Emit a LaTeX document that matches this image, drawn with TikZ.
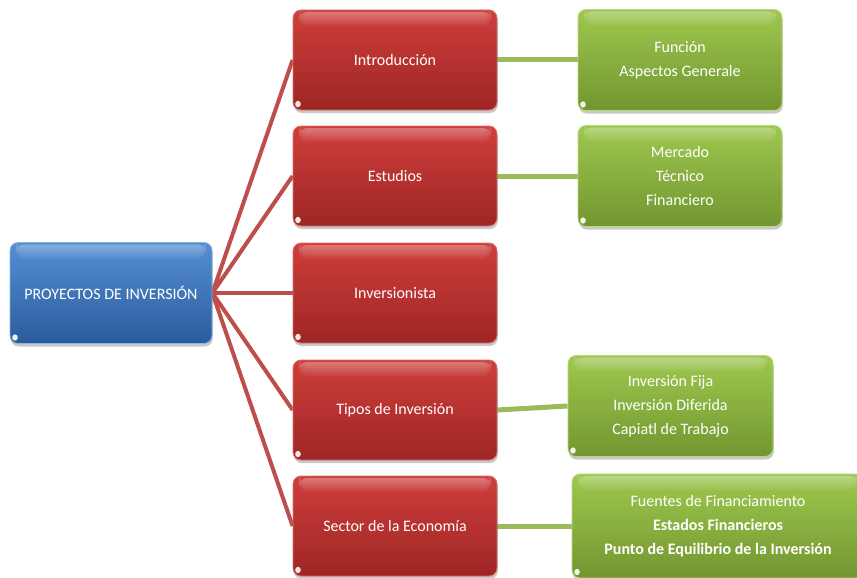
\documentclass[tikz,border=0pt]{standalone}
\usepackage{fontspec}
\setmainfont{Carlito}
\usetikzlibrary{shadows,backgrounds}

% palette
\definecolor{bluetop}{RGB}{86,142,212}
\definecolor{bluebot}{RGB}{42,92,156}
\definecolor{blueedge}{RGB}{135,180,230}
\definecolor{redtop}{RGB}{206,62,60}
\definecolor{redbot}{RGB}{158,38,36}
\definecolor{rededge}{RGB}{220,110,105}
\definecolor{greentop}{RGB}{158,200,78}
\definecolor{greenbot}{RGB}{114,150,48}
\definecolor{greenedge}{RGB}{185,215,125}
\definecolor{redlink}{RGB}{190,78,75}
\definecolor{greenlink}{RGB}{155,187,89}

\tikzset{
  glossbox/.style={
    rounded corners=8pt, draw=#1edge, line width=0.8pt,
    top color=#1top, bottom color=#1bot,
    text=white, align=center,
    font=\fontsize{16pt}{24pt}\selectfont,
    drop shadow={shadow xshift=0.8pt, shadow yshift=-3pt, opacity=0.3, fill=black!70},
    path picture={
      % soft glossy band along the top edge
      \foreach \d in {2,4,...,16}
        \fill[white, opacity=0.05]
          ([xshift=6pt, yshift=-2pt]path picture bounding box.north west) rectangle
          ([xshift=-6pt, yshift=-\d pt]path picture bounding box.north east);
      % small reflection in the lower left corner
      \fill[white, opacity=0.9]
        ([xshift=5pt, yshift=6pt]path picture bounding box.south west)
        ellipse [x radius=2.8pt, y radius=3.2pt];
    }
  },
  rootbox/.style={glossbox=blue, minimum width=202pt, minimum height=101pt},
  midbox/.style={glossbox=red, minimum width=204pt, minimum height=100pt},
  leafbox/.style={glossbox=green, minimum width=204pt, minimum height=101pt},
  redline/.style={draw=redlink, line width=4pt},
  greenline/.style={draw=greenlink, line width=5pt},
}

\begin{document}
\begin{tikzpicture}[x=1pt, y=-1pt]
  \useasboundingbox (0,0) rectangle (857,578);

  % root
  \node[rootbox] (root) at (111,293) {PROYECTOS DE INVERSIÓN};

  % second level
  \node[midbox] (intro) at (395,60)  {Introducción};
  \node[midbox] (estu)  at (395,176) {Estudios};
  \node[midbox] (inver) at (395,293) {Inversionista};
  \node[midbox] (tipos) at (395,410) {Tipos de Inversión};
  \node[midbox] (sector) at (395,526) {Sector de la Economía};

  % third level
  \node[leafbox] (funcion) at (680,60) {Función\\Aspectos Generale};
  \node[leafbox] (mercado) at (680,176) {Mercado\\Técnico\\Financiero};
  \node[leafbox, minimum width=205pt] (fija) at (670.5,406) {Inversión Fija\\Inversión Diferida\\Capiatl de Trabajo};
  \node[leafbox, minimum width=292pt, minimum height=104pt] (fuentes) at (718,526)
    {Fuentes de Financiamiento\\\textbf{Estados Financieros}\\\textbf{Punto de Equilibrio de la Inversión}};

  % connectors, kept under the boxes
  \begin{scope}[on background layer]
    \fill[white] (0,0) rectangle (857,578);
    \foreach \n in {intro,estu,inver,tipos,sector}
      \draw[redline] (root.east) -- (\n.west);
    \draw[greenline] (intro.east) -- (funcion.west);
    \draw[greenline] (estu.east) -- (mercado.west);
    \draw[greenline] (tipos.east) -- (fija.west);
    \draw[greenline] (sector.east) -- (fuentes.west);
  \end{scope}
\end{tikzpicture}
\end{document}
